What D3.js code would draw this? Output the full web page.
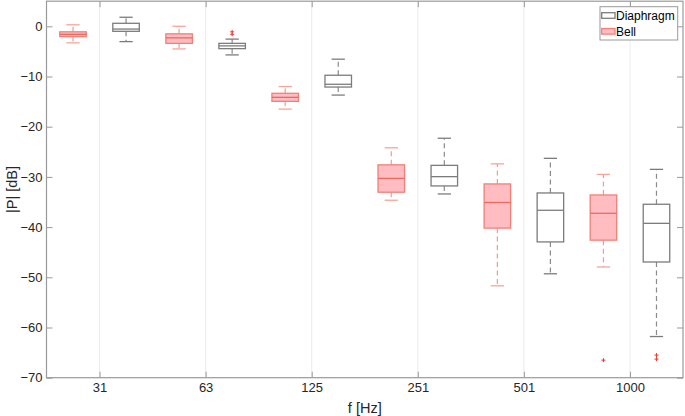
<!DOCTYPE html>
<html>
<head>
<meta charset="utf-8">
<script src="https://cdn.jsdelivr.net/npm/d3@7"></script>
<style>
  html, body { margin: 0; padding: 0; background: #fff; }
  svg { display: block; font-family: Arial, "Liberation Sans", sans-serif; }
</style>
</head>
<body>
<svg id="chart" width="685" height="416"></svg>
<script>
// ---- data ----
const categories = ["31", "63", "125", "251", "501", "1000"];
const seriesNames = ["Diaphragm", "Bell"];
const yTicks = [0, -10, -20, -30, -40, -50, -60, -70];

const bellUpper   = [0.3, 0.0, -12.0, -24.2, -27.4, -29.5];
const bellQ3      = [-1.1, -1.5, -13.35, -27.6, -31.4, -33.6];
const bellMedian  = [-1.6, -2.3, -14.15, -30.3, -35.1, -37.25];
const bellQ1      = [-2.05, -3.4, -14.95, -33.05, -40.2, -42.6];
const bellLower   = [-3.3, -4.5, -16.5, -34.65, -51.7, -47.95];
const bellOutliers = [[], [], [], [], [], [-66.5]];

const diaUpper    = [1.8, -2.55, -6.55, -22.3, -26.3, -28.5];
const diaQ3       = [0.6, -3.4, -9.75, -27.7, -33.2, -35.45];
const diaMedian   = [-0.55, -3.9, -11.55, -29.95, -36.65, -39.25];
const diaQ1       = [-1.0, -4.45, -12.1, -31.8, -42.95, -46.95];
const diaLower    = [-3.05, -5.7, -13.7, -33.4, -49.3, -61.8];
const diaOutliers = [[], [-1.1, -1.6], [], [], [], [-65.5, -66.3]];

// ---- layout ----
const svg = d3.select("#chart");
const L = 46.5, R = 683, T = 1.2, B = 377.7;

const x = d3.scaleLinear().domain([0.5, 12.5]).range([L, R]);
const y = d3.scaleLinear().domain([-70, 5]).range([B, T]);

const styles = {
  Bell: { fill: "#ffbcc1", stroke: "#f28078", median: "#ea6a62", whisker: "#f39a90", cap: "#f7a59b" },
  Diaphragm: { fill: "#ffffff", stroke: "#7c7c7c", median: "#7c7c7c", whisker: "#8a8a8a", cap: "#7c7c7c" }
};

const boxes = [];
categories.forEach((c, i) => {
  boxes.push({ series: "Bell", pos: 1 + 2 * i, lo: bellLower[i], q1: bellQ1[i], med: bellMedian[i], q3: bellQ3[i], hi: bellUpper[i], out: bellOutliers[i] });
  boxes.push({ series: "Diaphragm", pos: 2 + 2 * i, lo: diaLower[i], q1: diaQ1[i], med: diaMedian[i], q3: diaQ3[i], hi: diaUpper[i], out: diaOutliers[i] });
});
const tickPos = categories.map((c, i) => 1.5 + 2 * i);

// grid lines
svg.append("g").selectAll("line").data(tickPos).join("line")
  .attr("x1", d => x(d)).attr("x2", d => x(d))
  .attr("y1", T).attr("y2", B)
  .attr("stroke", "#ebebeb").attr("stroke-width", 1);

// boxes
const bw = (x(1.25) - x(1)) * 2;   // box width 0.5
const cw = (x(1.125) - x(1)) * 2;  // cap width 0.25
const g = svg.append("g");
boxes.forEach(b => {
  const s = styles[b.series];
  const cx = x(b.pos);
  g.append("line").attr("x1", cx).attr("x2", cx).attr("y1", y(b.q3)).attr("y2", y(b.hi))
    .attr("stroke", s.whisker).attr("stroke-width", 1.2).attr("stroke-dasharray", "5,3.5");
  g.append("line").attr("x1", cx).attr("x2", cx).attr("y1", y(b.q1)).attr("y2", y(b.lo))
    .attr("stroke", s.whisker).attr("stroke-width", 1.2).attr("stroke-dasharray", "5,3.5");
  [b.hi, b.lo].forEach(v => {
    g.append("line").attr("x1", cx - cw / 2).attr("x2", cx + cw / 2).attr("y1", y(v)).attr("y2", y(v))
      .attr("stroke", s.cap).attr("stroke-width", 1.3);
  });
  g.append("rect").attr("x", cx - bw / 2).attr("width", bw)
    .attr("y", y(b.q3)).attr("height", y(b.q1) - y(b.q3))
    .attr("fill", s.fill).attr("stroke", s.stroke).attr("stroke-width", 1.3);
  g.append("line").attr("x1", cx - bw / 2).attr("x2", cx + bw / 2).attr("y1", y(b.med)).attr("y2", y(b.med))
    .attr("stroke", s.median).attr("stroke-width", 1.3);
  b.out.forEach(v => {
    const oy = y(v);
    g.append("path").attr("d", `M${cx - 2},${oy}H${cx + 2}M${cx},${oy - 2}V${oy + 2}`)
      .attr("stroke", "#e8382e").attr("stroke-width", 1);
  });
});

// axes
const axisColor = "#9a9a9a";
const fontSize = "13px";
const ax = svg.append("g");

const axLeft = ax.append("g").attr("transform", `translate(${L},0)`)
  .call(d3.axisLeft(y).tickValues(yTicks).tickFormat(d3.format("d")).tickSize(-6).tickPadding(4));
const axBottom = ax.append("g").attr("transform", `translate(0,${B})`)
  .call(d3.axisBottom(x).tickValues(tickPos).tickFormat((d, i) => categories[i]).tickSize(-6).tickPadding(5.5));
const axTop = ax.append("g").attr("transform", `translate(0,${T})`)
  .call(d3.axisTop(x).tickValues(tickPos).tickFormat("").tickSize(-6));
const axRight = ax.append("g").attr("transform", `translate(${R},0)`)
  .call(d3.axisRight(y).tickValues(yTicks).tickFormat("").tickSize(-6));

[axLeft, axBottom, axTop, axRight].forEach(a => {
  a.select("path.domain").remove();
  a.selectAll(".tick line").attr("stroke", axisColor).attr("stroke-width", 1);
  a.selectAll(".tick text").attr("fill", "#262626").style("font-size", fontSize)
    .style("font-family", "Arial, 'Liberation Sans', sans-serif");
});
svg.append("rect").attr("x", L).attr("y", T).attr("width", R - L).attr("height", B - T)
  .attr("fill", "none").attr("stroke", axisColor).attr("stroke-width", 1.2);

// axis labels
svg.append("text").attr("x", (L + R) / 2).attr("y", 412.5).attr("text-anchor", "middle")
  .style("font-size", "14.5px").attr("fill", "#262626").text("f [Hz]");
svg.append("text").attr("transform", `translate(16.5,${(T + B) / 2}) rotate(-90)`)
  .attr("text-anchor", "middle").style("font-size", "14.5px").attr("fill", "#262626").text("|P| [dB]");

// legend
const lg = svg.append("g");
lg.append("rect").attr("x", 600).attr("y", 6.7).attr("width", 77.7).attr("height", 33.3)
  .attr("fill", "#fff").attr("stroke", "#9a9a9a").attr("stroke-width", 1);
seriesNames.forEach((name, i) => {
  const s = styles[name];
  const yy = 15.5 + i * 15.8;
  lg.append("rect").attr("x", 601.7).attr("y", yy - 2.8).attr("width", 13.3).attr("height", 5.6)
    .attr("fill", s.fill).attr("stroke", s.stroke).attr("stroke-width", 1.3);
  lg.append("text").attr("x", 616).attr("y", yy + 4.5).style("font-size", "12px")
    .attr("fill", "#000").text(name);
});
</script>
</body>
</html>
